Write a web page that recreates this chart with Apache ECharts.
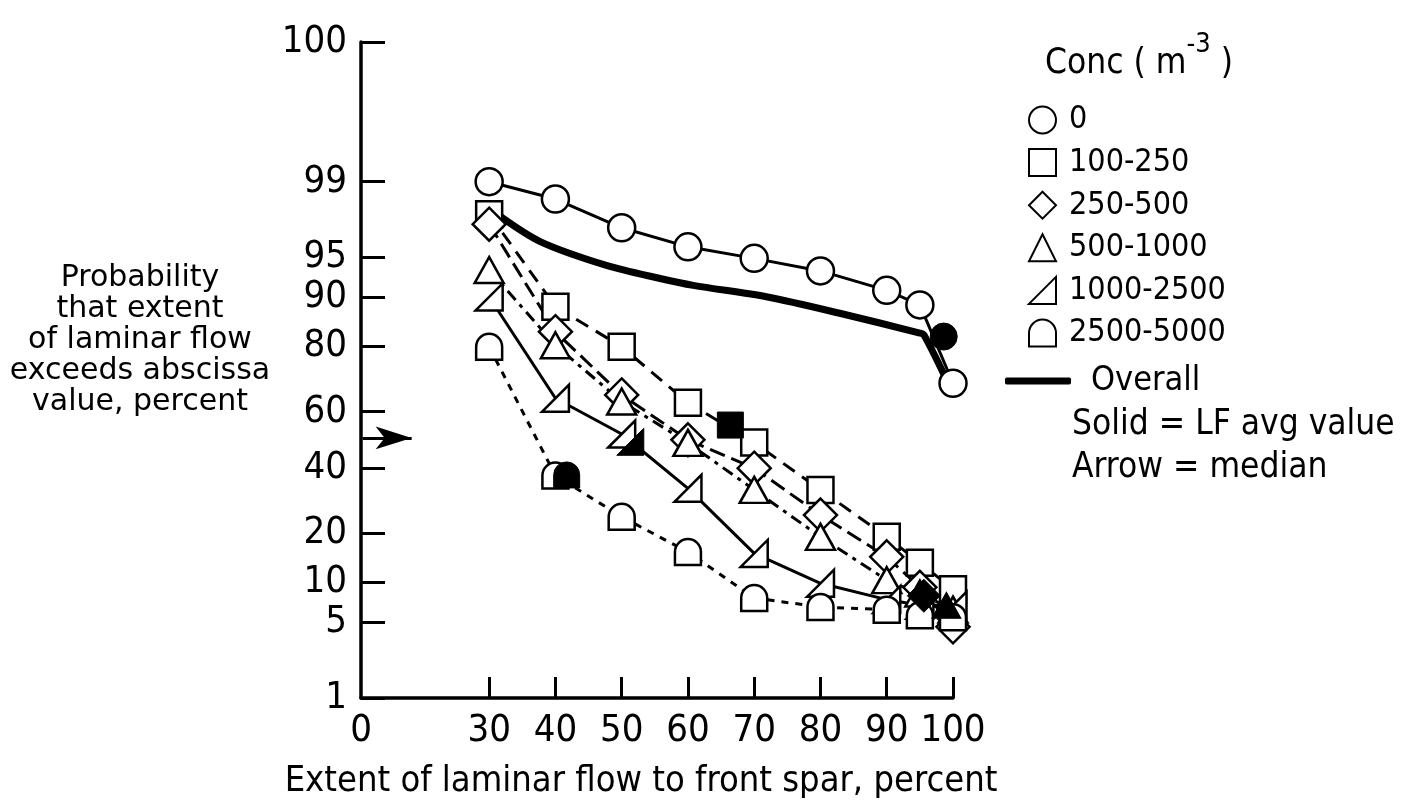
<!DOCTYPE html>
<html>
<head>
<meta charset="utf-8">
<script src="https://cdn.jsdelivr.net/npm/echarts@6/dist/echarts.min.js"></script>
<style>
  html, body { margin: 0; padding: 0; background: #fff; }
  #chart { width: 1416px; height: 803px; }
</style>
</head>
<body>
<div id="chart"></div>
<script>
var dom = document.getElementById('chart');
var myChart = echarts.init(dom);

// extent of laminar flow, percent
var xValues = [30, 40, 50, 60, 70, 80, 90, 95, 100];
var xTickLabels = [30, 40, 50, 60, 70, 80, 90, 100];
var yTickLabels = [1, 5, 10, 20, 40, 60, 80, 90, 95, 99, 100];

// probability (percent) per concentration class
var conc0 = [99.0, 98.5, 97.2, 95.9, 94.9, 93.6, 91.1, 88.8, 69.5];
var conc100 = [97.9, 88.5, 79.9, 63.1, 49.0, 32.6, 19.1, 13.4, 8.9];
var conc250 = [97.4, 83.5, 65.7, 50.0, 39.9, 24.9, 14.6, 9.2, 4.6];
var conc500 = [93.7, 80.3, 63.5, 48.9, 32.6, 19.1, 10.3, 8.3, 6.3];
var conc1000 = [90.1, 64.6, 52.1, 33.1, 15.3, 9.8, 7.5, 6.8, 6.8];
var conc2500 = [79.9, 37.4, 24.4, 15.6, 7.7, 6.6, 6.3, 5.7, 5.5];

// overall curve
var overallX = [31.2, 37.7, 47.7, 55.8, 60.8, 72.0, 82.9, 95.0, 95.6, 98.8];
var overallP = [97.9, 96.3, 94.2, 92.7, 91.8, 90.1, 87.3, 83.2, 82.8, 71.5];

// LF average values (solid symbols)
var avgX = [98.6, 66.4, 95.6, 99.0, 51.3, 41.7];
var avgP = [82.4, 55.3, 8.0, 6.8, 49.3, 37.6];
var avgShape = ['circle', 'square', 'diamond', 'triangle', 'rightTri', 'dome'];

// median arrow
var medianP = 50.7;
var medianX = [10.9, 18.3];

var yTitleLines = ['Probability', 'that extent', 'of laminar flow', 'exceeds abscissa', 'value, percent'];

var X_MIN = 10.66;     // where the "0" sits on the broken axis
var Z_TOP = 3.585;     // where "100" sits on the probability axis

// inverse normal cdf (Acklam)
function probit(p) {
  var a = [-39.69683028665376, 220.9460984245205, -275.9285104469687, 138.3577518672690, -30.66479806614716, 2.506628277459239];
  var b = [-54.47609879822406, 161.5858368580409, -155.6989798598866, 66.80131188771972, -13.28068155288572];
  var c = [-0.007784894002430293, -0.3223964580411365, -2.400758277161838, -2.549732539343734, 4.374664141464968, 2.938163982698783];
  var d = [0.007784695709041462, 0.3224671290700398, 2.445134137142996, 3.754408661907416];
  var plow = 0.02425, q, r;
  if (p < plow) {
    q = Math.sqrt(-2 * Math.log(p));
    return (((((c[0] * q + c[1]) * q + c[2]) * q + c[3]) * q + c[4]) * q + c[5]) /
      ((((d[0] * q + d[1]) * q + d[2]) * q + d[3]) * q + 1);
  }
  if (p <= 1 - plow) {
    q = p - 0.5; r = q * q;
    return (((((a[0] * r + a[1]) * r + a[2]) * r + a[3]) * r + a[4]) * r + a[5]) * q /
      (((((b[0] * r + b[1]) * r + b[2]) * r + b[3]) * r + b[4]) * r + 1);
  }
  q = Math.sqrt(-2 * Math.log(1 - p));
  return -(((((c[0] * q + c[1]) * q + c[2]) * q + c[3]) * q + c[4]) * q + c[5]) /
    ((((d[0] * q + d[1]) * q + d[2]) * q + d[3]) * q + 1);
}
function pz(pct) { return pct >= 100 ? Z_TOP : probit(pct / 100); }

var yTickZ = yTickLabels.map(pz);

var shapes = {
  circle: 'circle',
  square: 'rect',
  diamond: 'diamond',
  triangle: 'triangle',
  rightTri: 'path://M0,20 L20,0 L20,20 Z',
  dome: 'path://M0,20 L0,10 A10,10 0 0 1 20,10 L20,20 Z'
};
var sizes = {
  circle: 27, square: 26, diamond: 33, triangle: [29, 26], rightTri: [27, 27], dome: [26, 26]
};

function pairs(xs, ps) {
  return xs.map(function (x, i) { return [x, pz(ps[i])]; });
}

var FONT = "'Liberation Sans Narrow', 'DejaVu Sans Condensed', 'Liberation Sans', sans-serif";

function concSeries(name, data, shape, dash) {
  return {
    name: name,
    type: 'line',
    data: pairs(xValues, data),
    symbol: shapes[shape],
    symbolSize: sizes[shape],
    showAllSymbol: true,
    itemStyle: { color: '#fff', borderColor: '#000', borderWidth: 2.5 },
    lineStyle: { color: '#000', width: 3, type: dash },
    z: 3
  };
}

var series = [
  concSeries('0', conc0, 'circle', 'solid'),
  concSeries('100-250', conc100, 'square', [14, 9]),
  concSeries('250-500', conc250, 'diamond', [16, 7]),
  concSeries('500-1000', conc500, 'triangle', [12, 6, 4, 6]),
  concSeries('1000-2500', conc1000, 'rightTri', 'solid'),
  concSeries('2500-5000', conc2500, 'dome', [7, 7]),
  {
    name: 'Overall',
    type: 'line',
    data: pairs(overallX, overallP),
    smooth: 0.3,
    symbol: 'none',
    lineStyle: { color: '#000', width: 7 },
    itemStyle: { color: '#000' },
    z: 2,
    markLine: {
      silent: true,
      symbol: ['none', 'arrow'],
      symbolSize: [17, 36],
      symbolOffset: [0, 0],
      label: { show: false },
      lineStyle: { color: '#000', width: 3, type: 'solid' },
      data: [[{ coord: [medianX[0], pz(medianP)] }, { coord: [medianX[1], pz(medianP)] }]]
    }
  },
  {
    name: 'LF avg',
    type: 'scatter',
    data: avgX.map(function (x, i) {
      return { value: [x, pz(avgP[i])], symbol: shapes[avgShape[i]], symbolSize: sizes[avgShape[i]] };
    }),
    itemStyle: { color: '#000', borderColor: '#000', borderWidth: 1, opacity: 1 },
    z: 4
  }
];

var legendItem = { color: '#fff', borderColor: '#000', borderWidth: 2 };

var graphics = yTitleLines.map(function (line, i) {
  return {
    type: 'text', x: 140, y: 278 + i * 31,
    style: { text: line, fill: '#000', font: "30px 'DejaVu Sans'", align: 'center', verticalAlign: 'middle' }
  };
});
graphics.push(
  {
    type: 'text', left: 1045, top: 31,
    style: {
      text: '{b|Conc ( m}{s|-3}{b| )}',
      rich: {
        b: { fontFamily: FONT, fontSize: 35, fill: '#000', verticalAlign: 'bottom', lineHeight: 50 },
        s: { fontFamily: FONT, fontSize: 27, fill: '#000', verticalAlign: 'top', lineHeight: 50, padding: [0, 0, 22, 0] }
      }
    }
  },
  {
    type: 'text', x: 1072, y: 425,
    style: { text: 'Solid = LF avg value', fill: '#000', font: '35px ' + FONT, verticalAlign: 'middle' }
  },
  {
    type: 'text', x: 1072, y: 468,
    style: { text: 'Arrow = median', fill: '#000', font: '35px ' + FONT, verticalAlign: 'middle' }
  },
  {
    type: 'text', x: 641, y: 782,
    style: { text: 'Extent of laminar flow to front spar, percent', fill: '#000', font: '36px ' + FONT, align: 'center', verticalAlign: 'middle' }
  }
);

option = {
  backgroundColor: '#fff',
  animation: false,
  grid: { left: 361, right: 463, top: 42, bottom: 105, containLabel: false },
  xAxis: {
    type: 'value',
    min: X_MIN,
    max: 100,
    axisLine: { onZero: false, lineStyle: { color: '#000', width: 3.5 } },
    axisTick: { show: true, inside: true, length: 21, lineStyle: { color: '#000', width: 3 }, customValues: xTickLabels },
    axisLabel: {
      customValues: [X_MIN].concat(xTickLabels),
      color: '#000', fontFamily: FONT, fontSize: 38, margin: 14,
      formatter: function (v) { return v < 20 ? '0' : String(Math.round(v)); }
    },
    splitLine: { show: false }
  },
  yAxis: {
    type: 'value',
    min: pz(1),
    max: Z_TOP,
    axisLine: { show: true, onZero: false, lineStyle: { color: '#000', width: 3.5 } },
    axisTick: { show: true, inside: true, length: 24, lineStyle: { color: '#000', width: 3 }, customValues: yTickZ },
    axisLabel: {
      customValues: yTickZ,
      color: '#000', fontFamily: FONT, fontSize: 38, margin: 14,
      formatter: function (v) {
        var best = 0;
        yTickZ.forEach(function (z, i) { if (Math.abs(z - v) < Math.abs(yTickZ[best] - v)) best = i; });
        return String(yTickLabels[best]);
      }
    },
    splitLine: { show: false }
  },
  legend: [
    {
      orient: 'vertical',
      left: 1023,
      top: 99,
      itemWidth: 27,
      itemHeight: 27,
      itemGap: 10.6,
      textStyle: { color: '#000', fontFamily: FONT, fontSize: 32, lineHeight: 27, padding: [0, 0, 0, 8] },
      selectedMode: false,
      data: [
        { name: '0', icon: shapes.circle, itemStyle: legendItem },
        { name: '100-250', icon: shapes.square, itemStyle: legendItem },
        { name: '250-500', icon: shapes.diamond, itemStyle: legendItem },
        { name: '500-1000', icon: shapes.triangle, itemStyle: legendItem },
        { name: '1000-2500', icon: shapes.rightTri, itemStyle: legendItem },
        { name: '2500-5000', icon: shapes.dome, itemStyle: legendItem }
      ]
    },
    {
      left: 1000,
      top: 359,
      itemWidth: 66,
      itemHeight: 7,
      textStyle: { color: '#000', fontFamily: FONT, fontSize: 34, lineHeight: 28, padding: [0, 0, 0, 15] },
      selectedMode: false,
      data: [{ name: 'Overall', icon: 'roundRect', itemStyle: { color: '#000' } }]
    }
  ],
  graphic: graphics,
  series: series
};

if (option && typeof option === 'object') {
  myChart.setOption(option, true);
}
</script>
</body>
</html>
